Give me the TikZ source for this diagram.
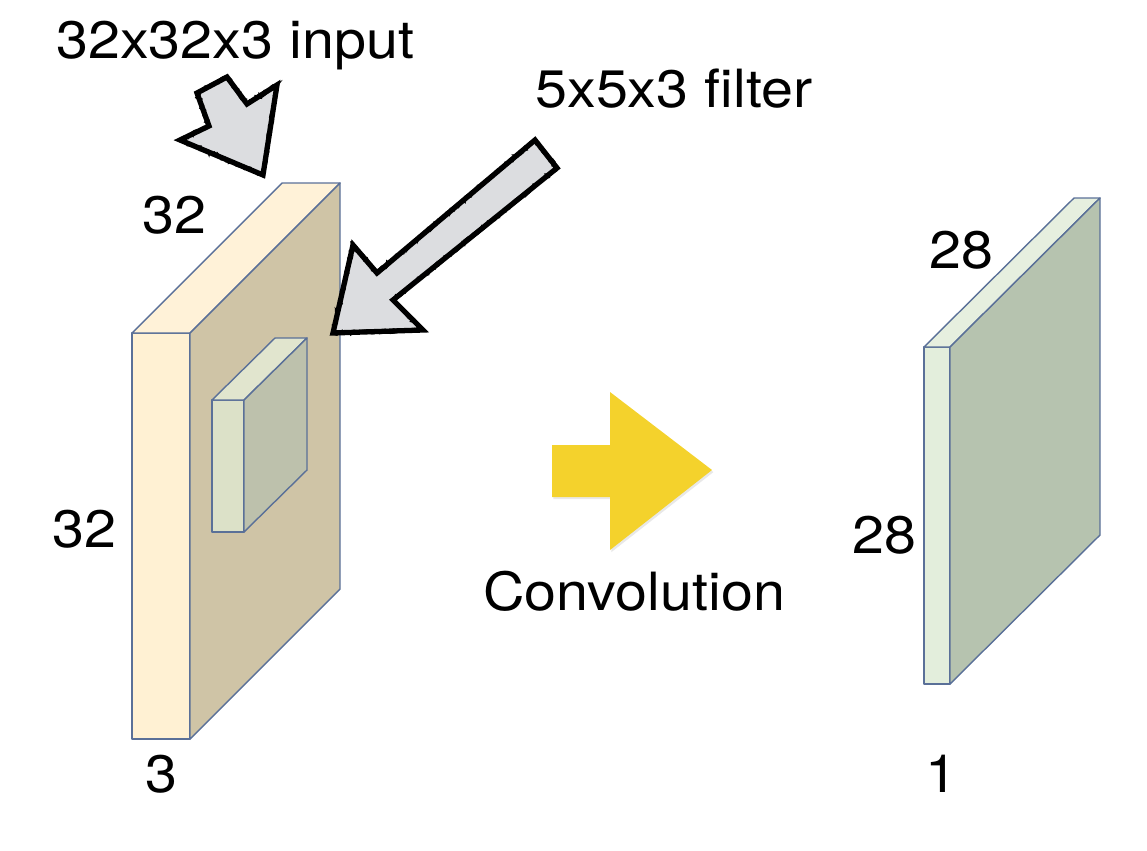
\documentclass[tikz,border=0pt]{standalone}
\usepackage{fontspec}
\setmainfont[FakeStretch=1.09]{TeX Gyre Heros}
\usetikzlibrary{calc,decorations.pathmorphing,shadows}
\definecolor{edgeblue}{HTML}{5A7098}
\definecolor{inpfront}{HTML}{FFF1D3}
\definecolor{inpside}{HTML}{CFC4A6}
\definecolor{inptop}{HTML}{FFF2D8}
\definecolor{fltfront}{HTML}{DCE1C8}
\definecolor{fltside}{HTML}{BDC1AC}
\definecolor{flttop}{HTML}{E1E5CE}
\definecolor{outfront}{HTML}{E3EEDC}
\definecolor{outside}{HTML}{B6C3AF}
\definecolor{outtop}{HTML}{E6EFDF}
\definecolor{pointgrey}{HTML}{DCDDE0}
\definecolor{convyellow}{HTML}{F4D22C}

\begin{document}
\begin{tikzpicture}[x=0.02cm,y=-0.02cm,
  edge/.style={draw=edgeblue,line width=0.8pt,line join=round},
  lbl/.style={font=\fontsize{30}{36}\selectfont,inner sep=0pt,anchor=base west},
  pointer/.style={fill=pointgrey,draw=black,line width=3pt,line join=miter},
  rough/.style={draw=black,line width=1.6pt,
    decorate,decoration={random steps,segment length=1.3pt,amplitude=0.9pt}}]
\useasboundingbox (0,0) rectangle (1147,850);
\pgfmathsetseed{7}
% volumes: input, filter, output
\foreach \n/\x/\y/\w/\h/\dx/\dy/\cf/\cs/\ct in {inp/132/333/58/406/150/150/inpfront/inpside/inptop,flt/212/400/32/132/63/62/fltfront/fltside/flttop,out/924/347/26/337/150/149/outfront/outside/outtop}{
\coordinate (\n) at (\x,\y);
\draw[edge,fill=\cf] (\n) rectangle ++(\w,\h);
\draw[edge,fill=\ct] (\n) -- ++(\dx,-\dy) -- ++(\w,0) -- ++(-\dx,\dy) -- cycle;
\draw[edge,fill=\cs] ($(\n)+(\w,0)$) -- ++(\dx,-\dy) -- ++(0,\h) -- ++(-\dx,\dy) -- cycle;}
% grey pointers
\foreach \p in {{(197,93) -- (227,77) -- (247,104) -- (277,85) -- (263,175) -- (180,140) -- (209,126) -- cycle},
  {(535,140) -- (557,168) -- (393,300) -- (423,330) -- (333,333) -- (353,245) -- (377,273) -- cycle}}{
\draw[pointer] \p;
\draw[rough] \p;}
% convolution arrow
\fill[convyellow,drop shadow={opacity=0.18,shadow xshift=0.8pt,shadow yshift=-1.2pt}] (552,445) -- (610,445) -- (610,392) -- (712,470) -- (610,550) -- (610,497) -- (552,497) -- cycle;
% labels
\node[lbl] (inptxt) at (56,58) {32x32x3 input};
\node[lbl] (flttxt) at (535,107) {5x5x3 filter};
\node[lbl] (inpw) at (142,233) {32};
\node[lbl] (inph) at (52,547) {32};
\node[lbl] (inpd) at (145,792) {3};
\node[lbl] (convtxt) at (483,610) {Convolution};
\node[lbl] (outw) at (929,268) {28};
\node[lbl] (outh) at (852,553) {28};
\node[lbl] (outd) at (925,792) {1};
\end{tikzpicture}
\end{document}
